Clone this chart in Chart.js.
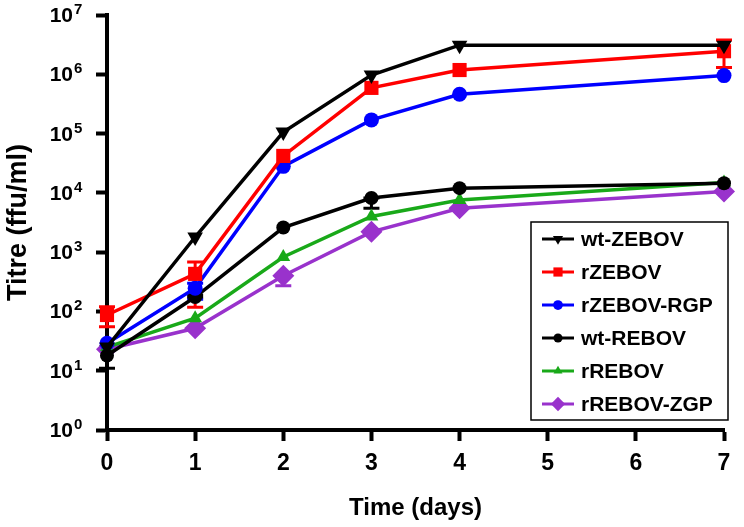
<!DOCTYPE html>
<html>
<head>
<meta charset="utf-8">
<script src="https://cdn.jsdelivr.net/npm/chart.js@4"></script>
<style>
html, body { margin: 0; padding: 0; background: #fff; }
</style>
</head>
<body>
<canvas id="chart" width="744" height="527"></canvas>
<script>
// x values (days) and tick values
const days = [0, 1, 2, 3, 4, 7];
const xTicks = [0, 1, 2, 3, 4, 5, 6, 7];
const yTicks = [1, 10, 100, 1e3, 1e4, 1e5, 1e6, 1e7];

// titres (ffu/ml)
const wtZebov = [25, 1800, 1.06e5, 9.7e5, 3.1e6, 3.1e6];
const rZebov = [87, 430, 4.2e4, 5.9e5, 1.18e6, 2.45e6];
const rZebovRgp = [29, 247, 2.8e4, 1.7e5, 4.6e5, 9.5e5];
const wtRebov = [18, 175, 2.6e3, 8.2e3, 1.2e4, 1.45e4];
const rRebov = [25, 77, 830, 4.0e3, 7.6e3, 1.5e4];
const rRebovZgp = [23, 52, 400, 2.2e3, 5.5e3, 1.05e4];

// error bars [low, high], null = none visible
const wtZebovErr = [[11, 25], null, null, null, null, null];
const rZebovErr = [[55, 120], [118, 680], null, null, null, [1.3e6, 3.8e6]];
const rZebovRgpErr = [null, [160, 300], null, null, null, null];
const wtRebovErr = [null, [190, 175], null, [5.5e3, 8.2e3], null, null];
const rRebovErr = [null, null, null, null, null, null];
const rRebovZgpErr = [null, null, [270, 400], null, null, null];

const pts = (vals) => vals.map((v, i) => ({ x: days[i], y: v }));

const fontFam = '"Liberation Sans", Arial, sans-serif';

function series(label, vals, err, color, style, radius, rotation) {
  return {
    label: label,
    data: pts(vals),
    err: err,
    borderColor: color,
    backgroundColor: color,
    borderWidth: 3.5,
    pointStyle: style,
    pointRadius: radius,
    pointHoverRadius: radius,
    pointRotation: rotation || 0,
    pointBorderWidth: 0,
    tension: 0
  };
}

const errorBars = {
  id: 'errorBars',
  beforeDatasetsDraw(chart) {
    const ctx = chart.ctx;
    const xs = chart.scales.x, ys = chart.scales.y;
    ctx.save();
    chart.data.datasets.forEach((ds) => {
      ctx.strokeStyle = ds.borderColor;
      ctx.lineWidth = 3;
      ds.err.forEach((e, i) => {
        if (!e) return;
        const x = xs.getPixelForValue(days[i]);
        const yl = ys.getPixelForValue(e[0]);
        const yh = ys.getPixelForValue(e[1]);
        ctx.beginPath();
        ctx.moveTo(x, yl); ctx.lineTo(x, yh);
        ctx.moveTo(x - 8, yl); ctx.lineTo(x + 8, yl);
        ctx.moveTo(x - 8, yh); ctx.lineTo(x + 8, yh);
        ctx.stroke();
      });
    });
    ctx.restore();
  }
};

// "10" with a raised exponent for each decade tick
const powerLabels = {
  id: 'powerLabels',
  afterDraw(chart) {
    const ctx = chart.ctx, ys = chart.scales.y;
    const baseX = 73;
    ctx.save();
    ctx.fillStyle = '#000';
    ctx.textBaseline = 'alphabetic';
    yTicks.forEach((v) => {
      const y = ys.getPixelForValue(v);
      const exp = String(Math.round(Math.log10(v)));
      ctx.font = 'bold 21px ' + fontFam;
      ctx.textAlign = 'right';
      ctx.fillText('10', baseX, y + 7);
      ctx.font = 'bold 15px ' + fontFam;
      ctx.textAlign = 'left';
      ctx.fillText(exp, baseX + 1, y - 1);
    });
    ctx.restore();
  }
};

const legendBox = {
  id: 'legendBox',
  afterDraw(chart) {
    const ctx = chart.ctx, a = chart.chartArea;
    const w = 197, h = 198, rowH = 33;
    const x0 = a.right - w + 4, y0 = a.bottom - h - 10;
    ctx.save();
    ctx.fillStyle = '#fff';
    ctx.fillRect(x0, y0, w, h);
    ctx.strokeStyle = '#000';
    ctx.lineWidth = 1.5;
    ctx.strokeRect(x0, y0, w, h);
    ctx.font = 'bold 21px ' + fontFam;
    ctx.textBaseline = 'middle';
    chart.data.datasets.forEach((ds, i) => {
      const y = y0 + 17 + i * rowH;
      ctx.strokeStyle = ds.borderColor;
      ctx.lineWidth = 3;
      ctx.beginPath();
      ctx.moveTo(x0 + 11, y); ctx.lineTo(x0 + 43, y);
      ctx.stroke();
      ctx.fillStyle = ds.backgroundColor;
      Chart.helpers.drawPoint(ctx, {
        pointStyle: ds.pointStyle,
        radius: ds.pointRadius * 0.65,
        rotation: ds.pointRotation,
        borderWidth: 0
      }, x0 + 27, y);
      ctx.fillStyle = '#000';
      ctx.fillText(ds.label, x0 + 50, y + 1);
    });
    ctx.restore();
  }
};

new Chart(document.getElementById('chart'), {
  type: 'line',
  data: {
    datasets: [
      series('wt-ZEBOV', wtZebov, wtZebovErr, '#000000', 'triangle', 9, 180),
      series('rZEBOV', rZebov, rZebovErr, '#ff0000', 'rect', 10),
      series('rZEBOV-RGP', rZebovRgp, rZebovRgpErr, '#0000ff', 'circle', 7.5),
      series('wt-REBOV', wtRebov, wtRebovErr, '#000000', 'circle', 7),
      series('rREBOV', rRebov, rRebovErr, '#19a919', 'triangle', 8),
      series('rREBOV-ZGP', rRebovZgp, rRebovZgpErr, '#9932cc', 'rectRot', 11)
    ]
  },
  options: {
    responsive: false,
    animation: false,
    datasets: { line: { clip: false } },
    layout: { padding: { top: 15, right: 20, left: 0, bottom: 0 } },
    plugins: { legend: { display: false }, tooltip: { enabled: false } },
    scales: {
      x: {
        type: 'linear',
        min: 0,
        max: 7,
        afterBuildTicks: (axis) => { axis.ticks = xTicks.map((v) => ({ value: v })); },
        afterFit: (scale) => { scale.height = 97; },
        border: { display: true, color: '#000', width: 4 },
        grid: { drawOnChartArea: false, drawTicks: true, tickLength: 11, tickWidth: 4, color: '#000' },
        ticks: { color: '#000', padding: 9, font: { family: fontFam, size: 23, weight: 'bold' } },
        title: { display: true, text: 'Time (days)', color: '#000', padding: { top: 9 }, font: { family: fontFam, size: 24, weight: 'bold' } }
      },
      y: {
        type: 'logarithmic',
        min: 1,
        max: 1e7,
        afterBuildTicks: (axis) => { axis.ticks = yTicks.map((v) => ({ value: v })); },
        afterFit: (scale) => { scale.width = 107; },
        border: { display: true, color: '#000', width: 4 },
        grid: { drawOnChartArea: false, drawTicks: true, tickLength: 11, tickWidth: 4, color: '#000' },
        ticks: { display: false },
        title: { display: true, text: 'Titre (ffu/ml)', color: '#000', padding: { top: 2, bottom: 6 }, font: { family: fontFam, size: 27, weight: 'bold' } }
      }
    }
  },
  plugins: [errorBars, powerLabels, legendBox]
});
</script>
</body>
</html>
